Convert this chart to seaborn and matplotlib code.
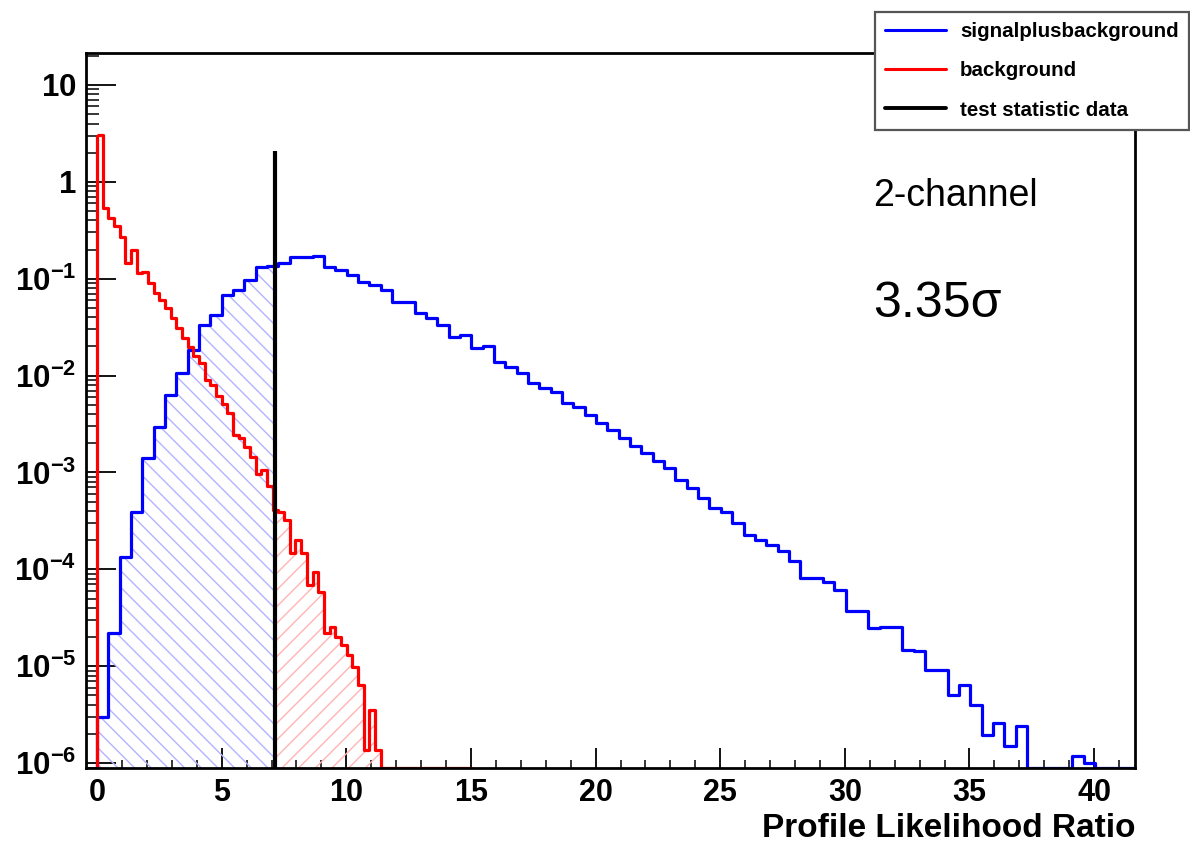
import numpy as np
import pandas as pd
import matplotlib
matplotlib.use("Agg")
import matplotlib.pyplot as plt
from matplotlib.lines import Line2D
from matplotlib.ticker import MultipleLocator, LogLocator, NullFormatter
import seaborn as sns

# ---------------- data ----------------
sb_bin_width = 0.455      # width of a signal+background bin
bkg_bin_width = 0.2275    # width of a background bin

signal_plus_background = [
    3.0e-6, 2.21e-5, 1.35e-4, 3.92e-4, 1.42e-3, 2.98e-3, 6.32e-3, 1.06e-2, 1.84e-2, 3.33e-2,
    4.23e-2, 6.81e-2, 7.66e-2, 9.73e-2, 0.133, 0.136, 0.146, 0.169, 0.169, 0.170,
    0.133, 0.123, 0.109, 0.0933, 0.0863, 0.0766, 0.0581, 0.0581, 0.0447, 0.0391,
    0.0333, 0.0253, 0.0263, 0.0192, 0.0203, 0.0139, 0.0124, 0.0106, 0.00836, 0.00741,
    0.00684, 0.00519, 0.00479, 0.00393, 0.00325, 0.00275, 0.00228, 0.00188, 0.00159, 0.00130,
    0.00111, 8.39e-4, 6.89e-4, 5.42e-4, 4.28e-4, 3.95e-4, 2.99e-4, 2.27e-4, 2.01e-4, 1.79e-4,
    1.53e-4, 1.21e-4, 8.11e-5, 8.11e-5, 7.48e-5, 6.14e-5, 3.73e-5, 3.73e-5, 2.47e-5, 2.57e-5,
    2.57e-5, 1.48e-5, 1.42e-5, 9.2e-6, 9.2e-6, 5.07e-6, 6.43e-6, 4.0e-6, 1.96e-6, 2.62e-6,
    1.49e-6, 2.43e-6, 0, 0, 0, 0, 1.19e-6, 1.0e-6, 0, 0, 0, 0,
]

background = [
    3.05, 0.538, 0.424, 0.351, 0.270, 0.146, 0.198, 0.115, 0.118, 0.0906,
    0.0714, 0.0605, 0.0500, 0.0394, 0.0310, 0.0245, 0.0198, 0.0160, 0.0135, 0.00903,
    0.00802, 0.00617, 0.00510, 0.00412, 0.00244, 0.00228, 0.00184, 0.00145, 9.68e-4, 1.06e-3,
    7.28e-4, 4.11e-4, 3.92e-4, 3.24e-4, 1.48e-4, 2.01e-4, 1.48e-4, 6.92e-5, 9.42e-5, 5.86e-5,
    2.21e-5, 2.55e-5, 2.01e-5, 1.66e-5, 1.31e-5, 9.86e-6, 6.43e-6, 1.37e-6, 3.55e-6, 1.37e-6,
    0, 0, 0, 0, 0, 0, 0, 0, 0, 0, 0, 0, 0, 0, 0, 0,
]

test_statistic = 7.13       # observed value (black line)
test_line_top = 2.1         # height the black line is drawn to

legend_labels = ["signalplusbackground", "background", "test statistic data"]
x_ticks = [0, 5, 10, 15, 20, 25, 30, 35, 40]
x_tick_labels = ["0", "5", "10", "15", "20", "25", "30", "35", "40"]
y_ticks = [1e-6, 1e-5, 1e-4, 1e-3, 1e-2, 1e-1, 1, 10]
y_tick_labels = ["10^{-6}", "10^{-5}", "10^{-4}", "10^{-3}", "10^{-2}", "10^{-1}", "1", "10"]
x_title = "Profile Likelihood Ratio"
annot_channel = "2-channel"
annot_sigma = "3.35σ"

# ---------------- style ----------------
sns.set_style("white")
plt.rcParams["font.family"] = ["Liberation Sans", "DejaVu Sans"]
plt.rcParams["mathtext.fontset"] = "custom"
plt.rcParams["mathtext.rm"] = "Liberation Sans"
plt.rcParams["mathtext.bf"] = "Liberation Sans:bold"
plt.rcParams["mathtext.it"] = "Liberation Sans:italic"
plt.rcParams["hatch.linewidth"] = 1.0
for key in ("text.color", "axes.labelcolor", "xtick.color", "ytick.color"):
    plt.rcParams[key] = "black"

fig = plt.figure(figsize=(11.9, 8.42), dpi=100)
ax = fig.add_axes([0.0723, 0.0879, 0.8815, 0.8492])
ax.set_yscale("log")

xmin, xmax = -0.44, 41.64
ymin, ymax = 8.9e-7, 21.4

sb = np.array(signal_plus_background, dtype=float)
bkg = np.array(background, dtype=float)
sb_edges = np.arange(len(sb) + 1) * sb_bin_width
bkg_edges = np.arange(len(bkg) + 1) * bkg_bin_width
sb_centers = 0.5 * (sb_edges[:-1] + sb_edges[1:])
bkg_centers = 0.5 * (bkg_edges[:-1] + bkg_edges[1:])
# empty bins are drawn on the lower frame, as ROOT does
sb_draw = np.where(sb > 0, sb, ymin)
bkg_draw = np.where(bkg > 0, bkg, ymin)
sb_df = pd.DataFrame({"x": sb_centers, "w": sb_draw})
bkg_df = pd.DataFrame({"x": bkg_centers, "w": bkg_draw})

# ---- hatched areas (s+b below the data value, b above it) ----
m = sb_edges[:-1] < test_statistic
xs = np.append(sb_edges[:-1][m], test_statistic)
ys = np.append(sb_draw[m], sb_draw[m][-1])
ax.fill_between(xs, ymin, ys, step="post", facecolor="none",
                edgecolor="#b3b3ff", linewidth=0, hatch="\\\\")

m = bkg_edges[1:] > test_statistic
xs = np.concatenate([[test_statistic], bkg_edges[1:][m]])
ys = np.concatenate([bkg_draw[m], [bkg_draw[m][-1]]])
ax.fill_between(xs, ymin, ys, step="post", facecolor="none",
                edgecolor="#ffb3b3", linewidth=0, hatch="//")

# ---- histogram outlines (seaborn) ----
sns.histplot(data=sb_df, x="x", weights="w", bins=sb_edges.tolist(), element="step",
             fill=True, facecolor="none", edgecolor="#0000ff", linewidth=2.3,
             color="#0000ff", ax=ax)
sns.histplot(data=bkg_df, x="x", weights="w", bins=bkg_edges.tolist(), element="step",
             fill=True, facecolor="none", edgecolor="#ff0000", linewidth=2.3,
             color="#ff0000", ax=ax)

# ---- observed test statistic ----
ax.vlines(test_statistic, ymin, test_line_top, color="black", linewidth=3.0, zorder=5)

# ---- axes ----
ax.set_xlim(xmin, xmax)
ax.set_ylim(ymin, ymax)
ax.set_ylabel("")
ax.set_xticks(x_ticks)
ax.set_xticklabels(x_tick_labels, fontweight="bold")
ax.xaxis.set_minor_locator(MultipleLocator(1))
ax.set_yticks(y_ticks)
ax.set_yticklabels([r"$\mathbf{" + s + "}$" for s in y_tick_labels])
ax.yaxis.set_minor_locator(LogLocator(base=10, subs=np.arange(2, 10)))
ax.yaxis.set_minor_formatter(NullFormatter())
ax.tick_params(axis="y", which="major", direction="in", length=21.5, width=1.3,
               labelsize=22.5, pad=7, left=True, right=False, colors="black")
ax.tick_params(axis="y", which="minor", direction="in", length=9.5, width=1.1,
               left=True, right=False, colors="black")
ax.tick_params(axis="x", which="major", direction="in", length=14.4, width=1.3,
               labelsize=22, pad=7, bottom=True, top=False, colors="black")
ax.tick_params(axis="x", which="minor", direction="in", length=6.0, width=1.1,
               bottom=True, top=False, colors="black")
for sp in ax.spines.values():
    sp.set_color("black")
    sp.set_linewidth(2.0)

ax.set_xlabel(x_title, fontsize=24, fontweight="bold", ha="right", va="baseline",
              color="black")
ax.xaxis.set_label_coords(1.0, -0.0965)

# ---- legend ----
handles = [Line2D([], [], color="#0000ff", lw=2.2),
           Line2D([], [], color="#ff0000", lw=2.2),
           Line2D([], [], color="black", lw=2.8)]
leg = fig.legend(handles, legend_labels, loc="upper right",
                 bbox_to_anchor=(1189 / 1190, 1 - 12 / 842),
                 prop={"weight": "bold", "size": 14.8},
                 frameon=True, fancybox=False, framealpha=1,
                 edgecolor="#555555", handlelength=2.95, handletextpad=0.7,
                 labelspacing=0.98, borderpad=0.5, borderaxespad=0)
leg.get_frame().set_linewidth(1.6)
for t in leg.get_texts():
    t.set_color("black")

# ---- annotations ----
fig.text(873 / 1190, 1 - 206 / 842, annot_channel, fontsize=27, ha="left",
         va="baseline", color="black")
fig.text(873 / 1190, 1 - 317 / 842, annot_sigma, fontsize=36, ha="left",
         va="baseline", color="black")

fig.savefig("out.png", dpi=100)
